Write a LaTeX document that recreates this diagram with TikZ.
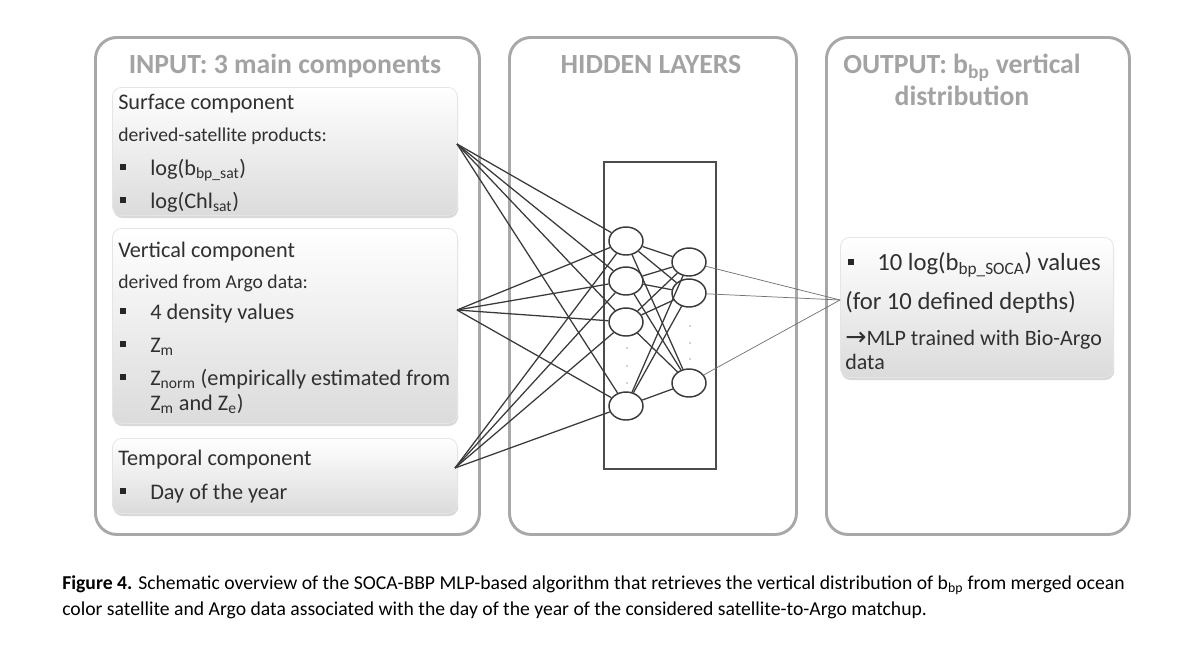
\documentclass[tikz,border=0pt]{standalone}
\usepackage{fontspec}
\setmainfont{Carlito}
\newfontfamily\dejavu{DejaVu Sans}
\usetikzlibrary{shapes.geometric,shadows}
\definecolor{boxgray}{HTML}{A8A8A8}
\definecolor{titlegray}{HTML}{A3A3A3}
\definecolor{txt}{HTML}{303030}
\definecolor{netc}{HTML}{3A3A3A}
\newcommand{\blt}{\textcolor{black!85}{\rule[0.2em]{4.5pt}{4.5pt}}}
\tikzset{
  bigbox/.style={draw=boxgray, line width=2.2pt, rounded corners=16pt, anchor=north west, inner sep=0pt},
  compbox/.style={draw=black!10, line width=0.6pt, rounded corners=7pt, anchor=north west, inner sep=0pt,
    top color=white, bottom color=black!14,
    drop shadow={shadow xshift=0.6pt, shadow yshift=-2pt, opacity=0.3}},
  ttl/.style={text=titlegray, font=\bfseries\fontsize{20.8}{24}\selectfont, inner sep=0pt, text height=15.4pt, text depth=2pt},
  head/.style={text=txt, font=\fontsize{16.7}{20}\selectfont, anchor=west, inner sep=0pt, text height=12.7pt, text depth=2pt},
  subt/.style={head, font=\fontsize{14.7}{18}\selectfont, text height=11.4pt},
  outt/.style={head, font=\fontsize{18.5}{22}\selectfont, text height=13.8pt},
  arrt/.style={head, font=\fontsize{16.5}{20}\selectfont, text height=12.6pt},
  bul/.style={inner sep=0pt, anchor=center},
  neuron/.style={ellipse, draw=netc, line width=1.1pt, fill=white, minimum width=25.5pt, minimum height=21pt, inner sep=0pt},
  netline/.style={draw=netc, line width=0.95pt},
  outlink/.style={draw=black!55, line width=0.55pt},
  dotn/.style={circle, fill=black!35, minimum size=1.3pt, inner sep=0pt},
  hidrect/.style={draw=black!70, line width=1.5pt, anchor=north west, inner sep=0pt},
  capt/.style={anchor=west, inner sep=0pt, font=\fontsize{14.75}{17}\selectfont, text=black, text height=11.4pt, text depth=2pt}
}
\begin{document}
\begin{tikzpicture}[x=0.75pt, y=-0.75pt]
\useasboundingbox (0,0) rectangle (1192,644);
% outer boxes
\node[bigbox, minimum width=288pt, minimum height=372.75pt] (inbox) at (94,36) {};
\node[bigbox, minimum width=215.25pt, minimum height=372.75pt] (hidbox) at (508,36) {};
\node[bigbox, minimum width=227.25pt, minimum height=372.75pt] (outbox) at (825,36) {};
% titles
\node[ttl] (inttl) at (285,65) {INPUT: 3 main components};
\node[ttl] (hidttl) at (651,65) {HIDDEN LAYERS};
\node[ttl] (outttl1) at (962,65) {OUTPUT: b\textsubscript{bp} vertical};
\node[ttl] (outttl2) at (962,97) {distribution};
% component boxes
\node[compbox, minimum width=258.75pt, minimum height=96pt] (surf) at (112,87) {};
\node[compbox, minimum width=258.75pt, minimum height=146.25pt] (vert) at (112,228) {};
\node[compbox, minimum width=258.75pt, minimum height=56.25pt] (temp) at (112,438) {};
\node[compbox, minimum width=204.75pt, minimum height=105pt] (obox) at (840,237) {};
% surface texts
\node[head] (s1) at (118,102) {Surface component};
\node[subt] (s2) at (118,135) {derived-satellite products:};
\node[bul] (sb1) at (123,168) {\blt};
\node[head] (s3) at (150,168) {log(b\textsubscript{bp\_sat})};
\node[bul] (sb2) at (123,201) {\blt};
\node[head] (s4) at (150,201) {log(Chl\textsubscript{sat})};
% vertical texts
\node[head] (v1) at (118,250) {Vertical component};
\node[subt] (v2) at (118,282) {derived from Argo data:};
\node[bul] (vb1) at (123,312) {\blt};
\node[head] (v3) at (150,312) {4 density values};
\node[bul] (vb2) at (123,345) {\blt};
\node[head] (v4) at (150,345) {Z\textsubscript{m}};
\node[bul] (vb3) at (123,378) {\blt};
\node[head] (v5) at (150,378) {Z\textsubscript{norm} (empirically estimated from};
\node[head] (v6) at (150,403) {Z\textsubscript{m} and Z\textsubscript{e})};
% temporal texts
\node[head] (t1) at (118,458) {Temporal component};
\node[bul] (tb1) at (123,492) {\blt};
\node[head] (t2) at (150,492) {Day of the year};
% output texts
\node[bul] (ob1) at (851,263) {\blt};
\node[outt] (o1) at (877,263) {10 log(b\textsubscript{bp\_SOCA}) values};
\node[outt] (o2) at (845,302) {(for 10 defined depths)};
\node[arrt] (o3) at (845,338) {{\dejavu\fontsize{19}{20}\selectfont →}MLP trained with Bio-Argo};
\node[arrt] (o4) at (845,362) {data};
% hidden rectangle
\node[hidrect, minimum width=84pt, minimum height=230.25pt] (hid) at (603,161) {};
% connector end points
\coordinate (sIn) at (457,144);
\coordinate (vIn) at (457,310);
\coordinate (tIn) at (455,468);
\coordinate (oIn) at (840,300);
% neurons
\node[neuron] (a1) at (626,241) {};
\node[neuron] (a2) at (626,281) {};
\node[neuron] (a3) at (626,322) {};
\node[neuron] (a4) at (626,406) {};
\node[neuron] (b1) at (689,262) {};
\node[neuron] (b2) at (689,293) {};
\node[neuron] (b3) at (689,383) {};
\node[dotn] (ad1) at (627,348) {};
\node[dotn] (ad2) at (627,366) {};
\node[dotn] (ad3) at (627,383) {};
\node[dotn] (bd1) at (690,326) {};
\node[dotn] (bd2) at (690,343) {};
\node[dotn] (bd3) at (690,359) {};
% connections
\foreach \s in {sIn,vIn,tIn}{
  \foreach \a in {a1,a2,a3,a4}{
    \draw[netline] (\s) -- (\a);
  }
}
\foreach \a in {a1,a2,a3,a4}{
  \foreach \b in {b1,b2,b3}{
    \draw[netline] (\a) -- (\b);
  }
}
\foreach \b in {b1,b2,b3}{
  \draw[outlink] (\b) -- (oIn);
}
% caption
\node[capt] (cap1) at (62,583) {\textbf{Figure 4.} Schematic overview of the SOCA-BBP MLP-based algorithm that retrieves the vertical distribution of b\textsubscript{bp} from merged ocean};
\node[capt] (cap2) at (62,609) {color satellite and Argo data associated with the day of the year of the considered satellite-to-Argo matchup.};
\end{tikzpicture}
\end{document}
